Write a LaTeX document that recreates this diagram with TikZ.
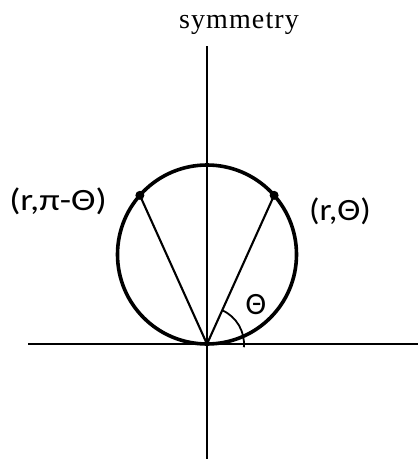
\documentclass[tikz,border=0pt]{standalone}
\usepackage{fontspec}
\usetikzlibrary{calc}
\setmainfont{Liberation Serif}
\newfontfamily\lblfont{Carlito}
\begin{document}
\begin{tikzpicture}[x=1pt,y=-1pt,
  axis/.style={line width=2.3pt,black},
  rim/.style={line width=3.6pt,black},
  radial/.style={line width=2.1pt,black},
  anglearc/.style={line width=1.8pt,black},
  dot/.style={circle,fill=black,inner sep=0pt,minimum size=9pt},
  lbl/.style={inner sep=0pt,anchor=base,font=\lblfont\fontsize{31}{31}\selectfont},
  ttl/.style={inner sep=0pt,anchor=base,font=\addfontfeatures{LetterSpace=4}\fontsize{28}{28}\selectfont}]
\useasboundingbox (0,0) rectangle (418,459);
\coordinate (O) at (207,344);
\coordinate (C) at (207,254.5);
\coordinate (xl) at (28,344);
\coordinate (xr) at (418,344);
\coordinate (yt) at (207,46);
\coordinate (yb) at (207,459);
\draw[axis] (xl) -- (xr);
\draw[axis] (yt) -- (yb);
\draw[rim] (C) circle[radius=89.5];
\node[dot] (P) at ($(C)+(-41.4:89.5)$) {};
\node[dot] (Q) at ($(C)+(-138.6:89.5)$) {};
\draw[radial] (O) -- (P.center);
\draw[radial] (O) -- (Q.center);
\draw[anglearc] (O) ++(5:37) arc[start angle=5,end angle=-65.5,radius=37];
\node[ttl] (title) at (239,28) {symmetry};
\node[lbl] (lq) at (58,210) {\scalebox{1.19}[1]{(r,π-Θ)}};
\node[lbl] (lp) at (340,220) {\scalebox{1.12}[1]{(r,Θ)}};
\node[lbl] (lt) at (256,314) {Θ};
\end{tikzpicture}
\end{document}
